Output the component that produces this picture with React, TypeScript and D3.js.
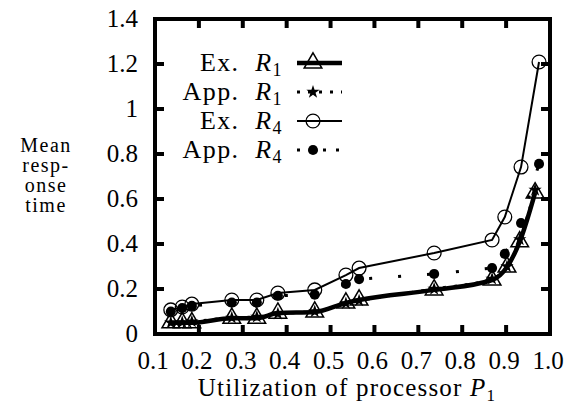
import React from 'react';
import * as d3 from 'd3';

// utilization of P1 (x) per model
const utilR1 = [0.136, 0.162, 0.184, 0.275, 0.332, 0.38, 0.464, 0.535, 0.565, 0.736, 0.868, 0.902, 0.931, 0.966];
const utilR4 = [0.136, 0.162, 0.184, 0.275, 0.332, 0.38, 0.464, 0.535, 0.565, 0.736, 0.868, 0.897, 0.934, 0.975];

// mean response times
const exR1 = [0.05, 0.05, 0.05, 0.07, 0.07, 0.093, 0.098, 0.138, 0.151, 0.196, 0.24, 0.298, 0.41, 0.627];
const appR1 = [0.05, 0.052, 0.055, 0.072, 0.076, 0.09, 0.1, 0.136, 0.148, 0.2, 0.245, 0.3, 0.42, 0.64];
const exR4 = [0.107, 0.12, 0.133, 0.151, 0.151, 0.182, 0.196, 0.262, 0.293, 0.36, 0.418, 0.52, 0.742, 1.209];
const appR4 = [0.1, 0.115, 0.125, 0.14, 0.14, 0.17, 0.175, 0.222, 0.244, 0.267, 0.293, 0.356, 0.493, 0.756];

const xTicks = [0.1, 0.2, 0.3, 0.4, 0.5, 0.6, 0.7, 0.8, 0.9, 1.0];
const yTicks = [0, 0.2, 0.4, 0.6, 0.8, 1, 1.2, 1.4];
const legendNames = ['Ex.', 'App.', 'Ex.', 'App.'];
const legendSubs = ['1', '1', '4', '4'];
const yTitle = ['Mean', 'resp-', 'onse', 'time'];

const FONT = 'Liberation Serif';

const App = () => {
  const width = 567;
  const height = 405;
  const left = 155;
  const right = 550;
  const top = 19;
  const bottom = 334;

  const x = d3.scaleLinear().domain([0.1, 1.0]).range([left, right]);
  const y = d3.scaleLinear().domain([0, 1.4]).range([bottom, top]);

  const pts = (xs: number[], ys: number[]) => ys.map((v, i) => [xs[i], v] as [number, number]);

  const smooth = d3
    .line<[number, number]>()
    .x((d) => x(d[0]))
    .y((d) => y(d[1]))
    .curve(d3.curveMonotoneX);
  const straight = d3
    .line<[number, number]>()
    .x((d) => x(d[0]))
    .y((d) => y(d[1]));

  const tri = d3.symbol().type(d3.symbolTriangle).size(135)();
  const star = d3.symbol().type(d3.symbolStar).size(55)();
  const circ = d3.symbol().type(d3.symbolCircle).size(150)();
  const dot = d3.symbol().type(d3.symbolCircle).size(80)();

  const fmtX = d3.format('.1f');
  const fmtY = (v: number) => (v === 0 || v === 1 ? String(v) : d3.format('.1f')(v));

  // legend geometry
  const legRows = [63, 92, 121, 150];
  const legText = 283;
  const legX0 = 297;
  const legX1 = 342;
  const legMark = 313;

  const legendSample = (i: number, cy: number) => {
    if (i === 0)
      return (
        <g>
          <line x1={legX0} x2={legX1} y1={cy} y2={cy} stroke="#000" strokeWidth={4.5} />
          <path d={tri} transform={`translate(${legMark},${cy})`} fill="none" stroke="#000" strokeWidth={1.5} />
        </g>
      );
    if (i === 1)
      return (
        <g>
          <line x1={legX0} x2={legX1} y1={cy} y2={cy} stroke="#000" strokeWidth={3} strokeDasharray="3,8" />
          <path d={star} transform={`translate(${legMark},${cy})`} fill="#000" />
        </g>
      );
    if (i === 2)
      return (
        <g>
          <line x1={legX0} x2={legX1} y1={cy} y2={cy} stroke="#000" strokeWidth={2} />
          <path d={circ} transform={`translate(${legMark},${cy})`} fill="none" stroke="#000" strokeWidth={1.3} />
        </g>
      );
    return (
      <g>
        <line x1={legX0} x2={legX1} y1={cy} y2={cy} stroke="#000" strokeWidth={3} strokeDasharray="3,10" />
        <path d={dot} transform={`translate(${legMark},${cy})`} fill="#000" />
      </g>
    );
  };

  return (
    <svg width={width} height={height} style={{ position: 'absolute', left: 0, top: 0, background: '#fff' }}>
      <rect width={width} height={height} fill="#fff" />

      {/* series lines */}
      <path d={smooth(pts(utilR1, exR1)) || ''} fill="none" stroke="#000" strokeWidth={4.5} />
      <path d={smooth(pts(utilR1, appR1)) || ''} fill="none" stroke="#000" strokeWidth={3} strokeDasharray="3,8" />
      <path d={straight(pts(utilR4, exR4)) || ''} fill="none" stroke="#000" strokeWidth={2} />
      <path d={straight(pts(utilR4, appR4)) || ''} fill="none" stroke="#000" strokeWidth={3} strokeDasharray="3,26" />

      {/* markers */}
      {pts(utilR1, exR1).map((d, i) => (
        <path key={`t${i}`} d={tri} transform={`translate(${x(d[0])},${y(d[1])})`} fill="none" stroke="#000" strokeWidth={1.5} />
      ))}
      {pts(utilR1, appR1).map((d, i) => (
        <path key={`s${i}`} d={star} transform={`translate(${x(d[0])},${y(d[1])})`} fill="#000" />
      ))}
      {pts(utilR4, exR4).map((d, i) => (
        <path key={`c${i}`} d={circ} transform={`translate(${x(d[0])},${y(d[1])})`} fill="none" stroke="#000" strokeWidth={1.3} />
      ))}
      {pts(utilR4, appR4).map((d, i) => (
        <path key={`d${i}`} d={dot} transform={`translate(${x(d[0])},${y(d[1])})`} fill="#000" />
      ))}

      {/* frame and ticks */}
      <rect x={left} y={top} width={right - left} height={bottom - top} fill="none" stroke="#000" strokeWidth={4} />
      {xTicks.slice(1, -1).map((t) => (
        <g key={`xt${t}`}>
          <line x1={x(t)} x2={x(t)} y1={bottom} y2={bottom - 9} stroke="#000" strokeWidth={4} />
          <line x1={x(t)} x2={x(t)} y1={top} y2={top + 9} stroke="#000" strokeWidth={4} />
        </g>
      ))}
      {yTicks.slice(1, -1).map((t) => (
        <g key={`yt${t}`}>
          <line x1={left} x2={left + 9} y1={y(t)} y2={y(t)} stroke="#000" strokeWidth={4} />
          <line x1={right} x2={right - 9} y1={y(t)} y2={y(t)} stroke="#000" strokeWidth={4} />
        </g>
      ))}

      {/* tick labels */}
      {xTicks.map((t) => (
        <text key={`xl${t}`} x={x(t) - 2} y={369} fontSize={25} fontFamily={FONT} textAnchor="middle">
          {fmtX(t)}
        </text>
      ))}
      {yTicks.map((t) => (
        <text key={`yl${t}`} x={138} y={y(t) + 8} fontSize={25} fontFamily={FONT} textAnchor="end">
          {fmtY(t)}
        </text>
      ))}

      {/* axis titles */}
      <text x={347} y={396} fontSize={25} fontFamily={FONT} textAnchor="middle" letterSpacing={1.2}>
        Utilization of processor <tspan fontStyle="italic">P</tspan>
        <tspan fontSize={17} dy={5}>1</tspan>
      </text>
      <text x={46} y={152} fontSize={20} fontFamily={FONT} textAnchor="middle" letterSpacing={1.5}>
        {yTitle.map((w, i) => (
          <tspan key={w} x={46} dy={i === 0 ? 0 : 20}>
            {w}
          </tspan>
        ))}
      </text>

      {/* legend */}
      {legRows.map((cy, i) => (
        <g key={`lg${i}`}>
          <text x={legText} y={cy + 8} fontSize={26} fontFamily={FONT} textAnchor="end" letterSpacing={1.4}>
            {legendNames[i]}
            {'\u00a0 '}
            <tspan fontStyle="italic">R</tspan>
            <tspan fontSize={18} dy={5}>{legendSubs[i]}</tspan>
          </text>
          {legendSample(i, cy)}
        </g>
      ))}
    </svg>
  );
};

export default App;
